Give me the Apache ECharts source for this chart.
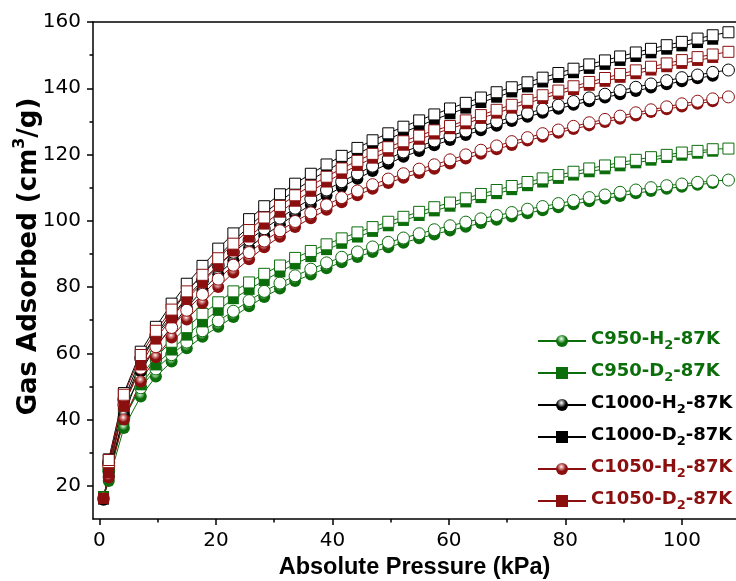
<!DOCTYPE html>
<html><head><meta charset="utf-8">
<script src="https://cdn.jsdelivr.net/npm/echarts@6/dist/echarts.min.js"></script>
<style>html,body{margin:0;padding:0;background:#fff}#c{width:736px;height:581px}</style>
</head><body><div id="c"></div>
<script>
// Pressures (kPa): adsorption branch (up) and desorption branch (down)
const adsP = [0.7, 1.6, 4.2, 7.1, 9.7, 12.4, 15.0, 17.7, 20.4, 23.0, 25.7, 28.3, 31.0, 33.6, 36.3, 39.0, 41.6, 44.3, 46.9, 49.6, 52.2, 54.9, 57.5, 60.2, 62.9, 65.5, 68.2, 70.8, 73.5, 76.1, 78.8, 81.4, 84.1, 86.8, 89.4, 92.1, 94.7, 97.4, 100.0, 102.7, 105.3];
const desP = [108.0, 105.3, 102.7, 100.0, 97.4, 94.7, 92.1, 89.4, 86.8, 84.1, 81.4, 78.8, 76.1, 73.5, 70.8, 68.2, 65.5, 62.9, 60.2, 57.5, 54.9, 52.2, 49.6, 46.9, 44.3, 41.6, 39.0, 36.3, 33.6, 31.0, 28.3, 25.7, 23.0, 20.4, 17.7, 15.0, 12.4, 9.7, 7.1, 4.2, 1.6];

// Gas adsorbed (cm3/g)
const c950H2Ads = [16.5, 21.5, 37.5, 47.0, 53.0, 57.5, 61.5, 65.0, 68.0, 71.0, 74.2, 77.0, 79.6, 81.8, 83.8, 85.7, 87.5, 89.1, 90.6, 92.0, 93.4, 94.7, 95.9, 97.1, 98.2, 99.3, 100.3, 101.3, 102.3, 103.2, 104.1, 105.0, 105.9, 106.7, 107.5, 108.3, 109.0, 109.7, 110.3, 110.9, 111.4];
const c950H2Des = [112.3, 112.0, 111.6, 111.1, 110.6, 110.0, 109.3, 108.6, 107.8, 107.0, 106.1, 105.2, 104.3, 103.5, 102.5, 101.6, 100.6, 99.6, 98.5, 97.3, 96.1, 94.8, 93.5, 92.1, 90.6, 89.0, 87.3, 85.4, 83.4, 81.2, 78.7, 75.9, 72.7, 69.8, 66.8, 63.4, 59.6, 55.3, 49.6, 40.5, 24.5];
const c950D2Ads = [16.8, 23.0, 40.0, 50.5, 56.5, 61.0, 65.5, 69.5, 73.0, 76.5, 79.3, 82.0, 84.6, 87.0, 89.2, 91.3, 93.2, 95.1, 96.8, 98.5, 100.1, 101.6, 103.0, 104.4, 105.7, 107.0, 108.2, 109.4, 110.6, 111.7, 112.8, 113.8, 114.8, 115.7, 116.6, 117.5, 118.3, 119.1, 119.8, 120.4, 121.0];
const c950D2Des = [121.8, 121.6, 121.1, 120.6, 119.9, 119.2, 118.4, 117.6, 116.7, 115.8, 114.8, 113.8, 112.8, 111.7, 110.5, 109.3, 108.1, 106.8, 105.5, 104.1, 102.7, 101.2, 99.7, 98.1, 96.5, 94.7, 92.9, 90.9, 88.8, 86.5, 84.0, 81.4, 78.7, 75.4, 71.9, 67.9, 63.5, 59.0, 53.0, 43.5, 26.5];
const c1000H2Ads = [15.8, 23.0, 41.5, 54.5, 62.0, 68.0, 73.8, 79.0, 83.8, 88.0, 91.9, 95.5, 98.8, 101.9, 104.8, 107.6, 110.2, 112.7, 115.0, 117.2, 119.3, 121.1, 122.8, 124.4, 125.9, 127.3, 128.7, 130.1, 131.4, 132.6, 133.8, 135.0, 136.1, 137.2, 138.2, 139.2, 140.2, 141.2, 142.1, 143.0, 143.8];
const c1000H2Des = [145.5, 144.8, 144.0, 143.2, 142.3, 141.3, 140.3, 139.3, 138.2, 137.1, 136.0, 134.9, 133.7, 132.5, 131.2, 129.9, 128.5, 127.1, 125.6, 124.1, 122.5, 120.8, 118.7, 116.5, 114.2, 111.8, 109.3, 106.6, 103.8, 100.8, 97.6, 94.2, 90.5, 86.5, 82.0, 77.0, 71.0, 65.5, 58.5, 46.0, 27.0];
const c1000D2Ads = [16.0, 24.5, 44.5, 57.5, 65.5, 72.5, 78.5, 84.0, 89.2, 93.9, 98.3, 102.3, 105.9, 109.2, 112.3, 115.1, 117.7, 120.2, 122.5, 124.6, 126.7, 128.6, 130.5, 132.3, 134.0, 135.7, 137.3, 138.9, 140.4, 141.9, 143.3, 144.7, 146.0, 147.2, 148.4, 149.6, 150.7, 151.8, 152.8, 153.8, 154.8];
const c1000D2Des = [156.9, 156.0, 155.0, 154.0, 153.0, 151.9, 150.8, 149.6, 148.4, 147.2, 145.9, 144.6, 143.2, 141.8, 140.3, 138.8, 137.2, 135.6, 133.9, 132.1, 130.3, 128.4, 126.4, 124.3, 122.0, 119.6, 117.0, 114.2, 111.2, 108.0, 104.4, 100.5, 96.2, 91.6, 86.4, 81.0, 75.0, 68.0, 60.5, 48.0, 28.0];
const c1050H2Ads = [16.3, 22.5, 40.0, 51.5, 58.8, 64.8, 70.2, 75.2, 80.0, 84.4, 88.4, 92.0, 95.2, 98.1, 100.8, 103.3, 105.6, 107.7, 109.7, 111.4, 113.0, 114.4, 115.7, 117.3, 118.8, 120.2, 121.6, 122.9, 124.2, 125.4, 126.6, 127.7, 128.8, 129.8, 130.8, 131.8, 132.8, 133.7, 134.5, 135.3, 136.1];
const c1050H2Des = [137.4, 136.8, 136.1, 135.3, 134.4, 133.5, 132.6, 131.6, 130.6, 129.6, 128.5, 127.4, 126.3, 125.1, 123.9, 122.6, 121.3, 119.9, 118.4, 116.9, 115.6, 114.2, 112.6, 110.9, 109.0, 107.0, 104.8, 102.4, 99.8, 97.0, 93.9, 90.4, 86.6, 82.4, 77.8, 73.0, 67.8, 62.0, 55.5, 44.5, 26.0];
const c1050D2Ads = [16.2, 24.0, 44.0, 56.5, 64.3, 70.7, 76.3, 81.4, 86.4, 90.9, 95.1, 99.0, 102.6, 105.9, 108.9, 111.7, 114.3, 116.7, 118.9, 121.0, 122.8, 124.6, 126.2, 127.8, 129.3, 130.9, 132.5, 134.0, 135.5, 136.9, 138.3, 139.6, 140.9, 142.1, 143.3, 144.4, 145.5, 146.5, 147.5, 148.4, 149.3];
const c1050D2Des = [151.0, 150.2, 149.4, 148.5, 147.5, 146.5, 145.4, 144.3, 143.1, 141.9, 140.6, 139.3, 137.9, 136.5, 135.0, 133.5, 131.9, 130.3, 128.6, 127.3, 125.7, 124.0, 122.2, 120.2, 118.1, 115.8, 113.3, 110.6, 107.7, 104.5, 101.0, 97.2, 93.1, 88.7, 83.7, 78.7, 73.2, 66.8, 59.5, 47.5, 27.8];

// Series names and tick labels
const seriesNames = ['C950-H2-87K', 'C950-D2-87K', 'C1000-H2-87K', 'C1000-D2-87K', 'C1050-H2-87K', 'C1050-D2-87K'];
const xMajorTicks = [0, 20, 40, 60, 80, 100];
const xMinorTicks = [10, 30, 50, 70, 90];
const yMajorTicks = [20, 40, 60, 80, 100, 120, 140, 160];
const yMinorTicks = [30, 50, 70, 90, 110, 130, 150];

const GREEN = '#0B6E0B', BLACK = '#000000', RED = '#8C0F0F';
const groups = [
  { name: seriesNames[0], color: GREEN, hl: '#9fd39f', symbol: 'circle', ads: c950H2Ads, des: c950H2Des },
  { name: seriesNames[1], color: GREEN, hl: '#9fd39f', symbol: 'rect', ads: c950D2Ads, des: c950D2Des },
  { name: seriesNames[2], color: BLACK, hl: '#b0b0b0', symbol: 'circle', ads: c1000H2Ads, des: c1000H2Des },
  { name: seriesNames[3], color: BLACK, hl: '#b0b0b0', symbol: 'rect', ads: c1000D2Ads, des: c1000D2Des },
  { name: seriesNames[4], color: RED, hl: '#e0a0a0', symbol: 'circle', ads: c1050H2Ads, des: c1050H2Des },
  { name: seriesNames[5], color: RED, hl: '#e0a0a0', symbol: 'rect', ads: c1050D2Ads, des: c1050D2Des }
];

function pairs(p, v) { return p.map((x, i) => [x, v[i]]); }
function sphere(c, hl) {
  return { type: 'radial', x: 0.45, y: 0.32, r: 0.7, colorStops: [
    { offset: 0, color: '#ffffff' }, { offset: 0.18, color: hl }, { offset: 0.55, color: c }, { offset: 1, color: c }] };
}

const series = [];
groups.forEach(g => {
  const size = g.symbol === 'circle' ? 12 : 11;
  series.push({
    type: 'line', name: g.name, data: pairs(adsP, g.ads), xAxisIndex: 0, yAxisIndex: 0,
    symbol: g.symbol, symbolSize: size, showAllSymbol: true,
    itemStyle: { color: g.symbol === 'circle' ? sphere(g.color, g.hl) : g.color, borderWidth: 0 },
    lineStyle: { color: g.color, width: 1 }, emphasis: { disabled: true }, animation: false
  });
  series.push({
    type: 'line', name: g.name + ' des', data: pairs(desP, g.des), xAxisIndex: 0, yAxisIndex: 0,
    symbol: g.symbol, symbolSize: size, showAllSymbol: true,
    itemStyle: { color: '#ffffff', borderColor: g.color, borderWidth: 1 },
    lineStyle: { color: g.color, width: 1 }, emphasis: { disabled: true }, animation: false
  });
});

const legendRich = {
  b: { fontFamily: 'DejaVu Sans', fontWeight: 'bold', fontSize: 18, lineHeight: 22, verticalAlign: 'top' },
  s: { fontFamily: 'DejaVu Sans', fontWeight: 'bold', fontSize: 13, lineHeight: 6, verticalAlign: 'bottom' }
};

const X_MIN = -1.1, X_MAX = 109.3, Y_MIN = 10, Y_MAX = 160;
const axisLineStyle = { color: '#000', width: 1.5 };
const labelStyle = { color: '#000', fontFamily: 'DejaVu Sans', fontSize: 20 };

const option = {
  backgroundColor: '#ffffff',
  animation: false,
  grid: { left: 93, right: 0, top: 22, bottom: 62, containLabel: false, outerBoundsMode: 'none' },
  legend: {
    orient: 'vertical', left: 537, top: 330, padding: 0,
    itemWidth: 48, itemHeight: 15, itemGap: 10, selectedMode: false,
    data: groups.map(g => ({ name: g.name, textStyle: { color: g.color, fontFamily: 'DejaVu Sans', fontWeight: 'bold', fontSize: 18, rich: legendRich } })),
    formatter: function (name) {
      const m = name.match(/^(C\d+-[HD])2(-87K)$/);
      return m ? '{b|' + m[1] + '}{s|2}{b|' + m[2] + '}' : name;
    }
  },
  xAxis: [
    {
      type: 'value', min: X_MIN, max: X_MAX, position: 'bottom',
      name: 'Absolute Pressure (kPa)', nameLocation: 'middle', nameGap: 37, nameMoveOverlap: false,
      nameTextStyle: { fontFamily: 'Liberation Sans', fontWeight: 'bold', fontSize: 23.5, color: '#000' },
      axisLine: { show: true, onZero: false, lineStyle: axisLineStyle },
      axisTick: { show: true, inside: false, length: 6, customValues: xMajorTicks, lineStyle: axisLineStyle },
      axisLabel: Object.assign({ customValues: xMajorTicks, margin: 12 }, labelStyle),
      splitLine: { show: false }
    },
    {
      type: 'value', min: X_MIN, max: X_MAX, position: 'bottom',
      axisLine: { show: false, onZero: false },
      axisTick: { show: true, inside: false, length: 3.5, customValues: xMinorTicks, lineStyle: axisLineStyle },
      axisLabel: { show: false }, splitLine: { show: false }
    },
    {
      type: 'value', min: X_MIN, max: X_MAX, position: 'top',
      axisLine: { show: true, onZero: false, lineStyle: axisLineStyle },
      axisTick: { show: false }, axisLabel: { show: false }, splitLine: { show: false }
    }
  ],
  yAxis: [
    {
      type: 'value', min: Y_MIN, max: Y_MAX, position: 'left',
      name: '{t|Gas Adsorbed (cm}{p|3}{t|/g)}', nameLocation: 'middle', nameRotate: 90, nameGap: 51, nameMoveOverlap: false,
      nameTextStyle: {
        color: '#000', fontFamily: 'DejaVu Sans', fontWeight: 'bold', fontSize: 26, padding: [0, 0, 0, 28],
        rich: {
          t: { fontFamily: 'DejaVu Sans', fontWeight: 'bold', fontSize: 26, lineHeight: 30, verticalAlign: 'bottom', color: '#000' },
          p: { fontFamily: 'DejaVu Sans', fontWeight: 'bold', fontSize: 16, lineHeight: 20, verticalAlign: 'top', color: '#000' }
        }
      },
      axisLine: { show: true, onZero: false, lineStyle: axisLineStyle },
      axisTick: { show: true, inside: false, length: 6, customValues: yMajorTicks, lineStyle: axisLineStyle },
      axisLabel: Object.assign({ customValues: yMajorTicks, margin: 12 }, labelStyle),
      splitLine: { show: false }
    },
    {
      type: 'value', min: Y_MIN, max: Y_MAX, position: 'left',
      axisLine: { show: false, onZero: false },
      axisTick: { show: true, inside: false, length: 3.5, customValues: yMinorTicks, lineStyle: axisLineStyle },
      axisLabel: { show: false }, splitLine: { show: false }
    }
  ],
  series: series
};

const chart = echarts.init(document.getElementById('c'), null, { renderer: 'canvas' });
chart.setOption(option);
</script>
</body></html>
